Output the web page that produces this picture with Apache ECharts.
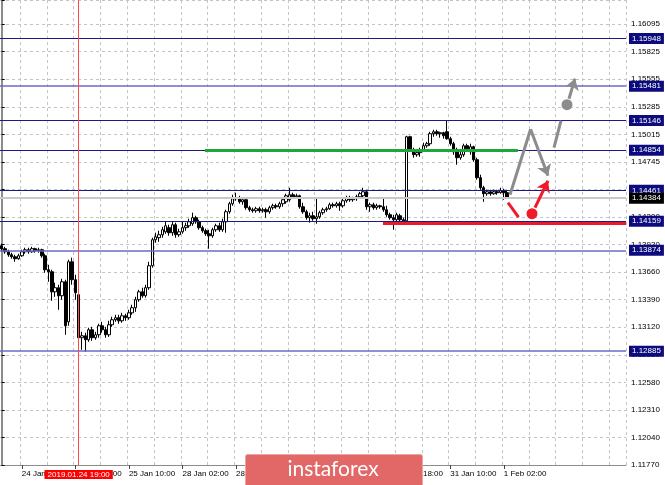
<!DOCTYPE html>
<html><head><meta charset="utf-8">
<script src="https://cdn.jsdelivr.net/npm/echarts@6/dist/echarts.min.js"></script>
<style>html,body{margin:0;padding:0;background:#fff}#c{width:665px;height:485px}</style>
</head><body><div id="c"></div>
<script>
// ---- data (EURUSD H1) ----
const opens = [1.13918,1.13889,1.13859,1.13830,1.13810,1.13791,1.13820,1.13859,1.13879,1.13859,
1.13889,1.13869,1.13879,1.13820,1.13683,1.13663,1.13467,1.13507,1.13428,1.13565,
1.13173,1.13761,1.13585,1.13438,1.13017,1.13036,1.12997,1.13095,1.13017,1.13046,
1.13134,1.13095,1.13046,1.13144,1.13193,1.13213,1.13183,1.13232,1.13213,1.13261,
1.13311,1.13389,1.13467,1.13428,1.13507,1.13722,1.13977,1.13997,1.14026,1.14055,
1.14095,1.14046,1.14124,1.14026,1.14055,1.14095,1.14114,1.14134,1.14193,1.14153,
1.14095,1.14065,1.14036,1.14016,1.14075,1.14114,1.14075,1.14153,1.14251,1.14330,
1.14379,1.14389,1.14349,1.14369,1.14291,1.14271,1.14261,1.14281,1.14261,1.14271,
1.14251,1.14291,1.14310,1.14300,1.14330,1.14349,1.14369,1.14418,1.14398,1.14408,
1.14300,1.14251,1.14193,1.14212,1.14183,1.14202,1.14242,1.14271,1.14281,1.14320,
1.14310,1.14330,1.14310,1.14359,1.14389,1.14369,1.14379,1.14398,1.14408,1.14447,
1.14300,1.14320,1.14291,1.14310,1.14300,1.14271,1.14222,1.14193,1.14173,1.14212,
1.14173,1.14163,1.14986,1.14859,1.14810,1.14830,1.14859,1.14898,1.14918,1.15016,
1.15035,1.15016,1.15026,1.15035,1.14967,1.14918,1.14839,1.14781,1.14810,1.14898,
1.14839,1.14888,1.14761,1.14585,1.14487,1.14428,1.14447,1.14428,1.14447,1.14438,
1.14457,1.14438];
const closes = [1.13889,1.13859,1.13830,1.13810,1.13791,1.13820,1.13859,1.13879,1.13859,1.13889,
1.13869,1.13879,1.13820,1.13683,1.13663,1.13467,1.13507,1.13428,1.13565,1.13134,
1.13761,1.13585,1.13458,1.13017,1.13036,1.12997,1.13095,1.13017,1.13046,1.13134,
1.13095,1.13046,1.13144,1.13193,1.13213,1.13183,1.13232,1.13213,1.13261,1.13311,
1.13389,1.13467,1.13428,1.13507,1.13722,1.13977,1.14006,1.14026,1.14075,1.14114,
1.14046,1.14124,1.14026,1.14055,1.14095,1.14114,1.14153,1.14193,1.14153,1.14095,
1.14065,1.14036,1.14016,1.14075,1.14114,1.14075,1.14153,1.14251,1.14330,1.14379,
1.14389,1.14349,1.14369,1.14291,1.14271,1.14261,1.14281,1.14261,1.14271,1.14251,
1.14291,1.14310,1.14300,1.14330,1.14369,1.14408,1.14418,1.14398,1.14408,1.14300,
1.14251,1.14193,1.14212,1.14183,1.14202,1.14242,1.14271,1.14281,1.14320,1.14310,
1.14330,1.14310,1.14359,1.14389,1.14369,1.14379,1.14398,1.14428,1.14447,1.14300,
1.14320,1.14291,1.14310,1.14300,1.14271,1.14222,1.14193,1.14173,1.14222,1.14173,
1.14163,1.14986,1.14859,1.14810,1.14830,1.14859,1.14898,1.14918,1.15016,1.15035,
1.15016,1.15026,1.14996,1.14967,1.14918,1.14839,1.14781,1.14810,1.14898,1.14869,
1.14888,1.14761,1.14585,1.14487,1.14428,1.14447,1.14428,1.14447,1.14438,1.14457,
1.14438,1.14384];
const lows = [1.13869,1.13840,1.13810,1.13791,1.13761,1.13781,1.13810,1.13840,1.13840,1.13850,
1.13850,1.13850,1.13801,1.13654,1.13565,1.13379,1.13418,1.13291,1.13389,1.13046,
1.13134,1.13536,1.13389,1.12938,1.12899,1.12879,1.12977,1.12987,1.12997,1.13017,
1.13066,1.13017,1.13026,1.13124,1.13173,1.13154,1.13164,1.13183,1.13193,1.13242,
1.13271,1.13369,1.13409,1.13409,1.13487,1.13703,1.13948,1.13957,1.13997,1.14036,
1.14016,1.14016,1.13997,1.14006,1.14036,1.14065,1.14095,1.14114,1.14134,1.14075,
1.14046,1.14016,1.13889,1.13997,1.14055,1.14055,1.14055,1.14046,1.14232,1.14310,
1.14359,1.14330,1.14320,1.14271,1.14251,1.14242,1.14242,1.14242,1.14242,1.14193,
1.14232,1.14271,1.14281,1.14281,1.14300,1.14330,1.14349,1.14379,1.14379,1.14281,
1.14232,1.14173,1.14144,1.14163,1.14134,1.14183,1.14222,1.14251,1.14271,1.14291,
1.14291,1.14261,1.14291,1.14340,1.14349,1.14349,1.14359,1.14379,1.14389,1.14271,
1.14251,1.14271,1.14271,1.14281,1.14251,1.14202,1.14173,1.14075,1.14153,1.14144,
1.14134,1.14144,1.14839,1.14781,1.14790,1.14790,1.14839,1.14879,1.14898,1.14986,
1.14996,1.14977,1.14967,1.14957,1.14898,1.14810,1.14712,1.14761,1.14790,1.14839,
1.14810,1.14741,1.14565,1.14467,1.14349,1.14408,1.14408,1.14418,1.14418,1.14428,
1.14369,1.14379];
const highs = [1.13938,1.13908,1.13879,1.13850,1.13830,1.13840,1.13879,1.13899,1.13899,1.13908,
1.13899,1.13899,1.13889,1.13840,1.13732,1.13683,1.13556,1.13536,1.13595,1.13585,
1.13781,1.13801,1.13634,1.13458,1.13075,1.13066,1.13115,1.13124,1.13075,1.13154,
1.13173,1.13124,1.13183,1.13222,1.13242,1.13242,1.13261,1.13252,1.13291,1.13340,
1.13418,1.13487,1.13507,1.13536,1.13761,1.13997,1.14046,1.14065,1.14104,1.14153,
1.14124,1.14153,1.14144,1.14085,1.14153,1.14144,1.14183,1.14242,1.14212,1.14173,
1.14114,1.14085,1.14075,1.14095,1.14134,1.14144,1.14183,1.14271,1.14349,1.14418,
1.14438,1.14408,1.14389,1.14379,1.14310,1.14291,1.14300,1.14300,1.14291,1.14291,
1.14310,1.14330,1.14330,1.14349,1.14389,1.14428,1.14487,1.14438,1.14428,1.14418,
1.14340,1.14271,1.14242,1.14251,1.14389,1.14261,1.14291,1.14300,1.14340,1.14340,
1.14349,1.14349,1.14379,1.14408,1.14408,1.14398,1.14418,1.14447,1.14487,1.14467,
1.14340,1.14340,1.14330,1.14320,1.14389,1.14310,1.14242,1.14222,1.14242,1.14232,
1.14193,1.14996,1.14996,1.14879,1.14859,1.14879,1.14928,1.14937,1.15035,1.15055,
1.15055,1.15035,1.15035,1.15143,1.14986,1.14937,1.14879,1.14839,1.14918,1.14918,
1.14918,1.14898,1.14781,1.14614,1.14506,1.14467,1.14467,1.14467,1.14467,1.14487,
1.14477,1.14457];

// time tick labels (category index -> text)
const xTickIdx = [6, 22, 38, 54, 70, 86, 102, 118, 134, 150];
const xTickText = ['24 Jan 02:00','24 Jan 18:00','25 Jan 10:00','28 Jan 02:00','28 Jan 18:00',
  '29 Jan 10:00','30 Jan 02:00','30 Jan 18:00','31 Jan 10:00','1 Feb 02:00'];
// price axis labels, bottom to top
const yTickText = ['1.11770','1.12040','1.12310','1.12580','1.12850','1.13120','1.13390','1.13660',
  '1.13930','1.14200','1.14470','1.14745','1.15015','1.15285','1.15555','1.15825','1.16095'];

// horizontal levels
const levelValues = [1.15948, 1.15481, 1.15146, 1.14854, 1.14461, 1.14159, 1.13874, 1.12885];
const levelLight  = [false, true, false, false, false, false, true, true];
const bidPrice = 1.14384;
const markerBar = 23, markerText = '2019.01.24 19:00';

// annotations: [bar position, price]
const greenLine = [[60.7, 1.14857], [154.2, 1.14857]];
const redLine = [[113.9, 1.14139], [186.5, 1.14139]];
const greyUp = [[151.85, 1.14418], [158.0, 1.15060]];
const greyDown = [[158.0, 1.15060], [163.2, 1.14604]];
const greyDash = [[164.99, 1.14879], [167.08, 1.15143]];
const greyArrow = [[169.47, 1.15359], [171.26, 1.15555]];
const greyDot = [168.87, 1.15300];
const redStroke = [[151.25, 1.14340], [154.39, 1.14198]];
const redArrow = [[159.32, 1.14291], [163.2, 1.14555]];
const redDot = [158.42, 1.14232];

const N_SLOTS = 187;
const Y_MIN = 1.1177, Y_STEP = 0.0027, Y_MAX = 1.16326;
const FONT = 'Liberation Sans';

const categories = Array.from({length: N_SLOTS}, (_, i) => String(i));
const labelOf = {};
xTickIdx.forEach((k, j) => { labelOf[k] = xTickText[j]; });
const candles = opens.map((o, i) => [o, closes[i], lows[i], highs[i]]);

const NAVY = '#0b0b7d';
const markData = levelValues.map((v, i) => ({
  yAxis: v,
  lineStyle: {color: levelLight[i] ? '#6a6ac8' : '#1a1a80', width: levelLight[i] ? 1.5 : 1, type: 'solid'},
  label: {show: true, position: 'end', distance: 3, formatter: v.toFixed(5), backgroundColor: NAVY,
    color: '#fff', fontSize: 8, fontFamily: FONT, padding: [2, 3, 1, 3]}
}));
markData.push({
  yAxis: bidPrice,
  lineStyle: {color: '#c8c8c8', width: 2, type: 'solid'},
  label: {show: true, position: 'end', distance: 3, formatter: bidPrice.toFixed(5), backgroundColor: '#000',
    color: '#fff', fontSize: 8, fontFamily: FONT, padding: [2, 3, 1, 3]}
});
markData.push({
  xAxis: markerBar,
  lineStyle: {color: '#ff4a4a', width: 1, type: 'solid'},
  label: {show: true, position: 'start', distance: 5, formatter: markerText, backgroundColor: '#ff0000',
    color: '#fff', fontSize: 8, fontFamily: FONT, padding: [1, 3, 0, 3]}
});

const GREY = '#8c8c8c', RED = '#ef1b2a';
const chart = echarts.init(document.getElementById('c'));
chart.setOption({
  animation: false,
  backgroundColor: '#fff',
  grid: {left: 0, right: 39, top: 0, bottom: 20, containLabel: false},
  xAxis: [{
    type: 'category', data: categories, boundaryGap: true,
    axisLine: {show: true, lineStyle: {color: '#8c8c8c', width: 1}},
    axisTick: {show: true, alignWithLabel: true, length: 4, lineStyle: {color: '#444'},
      interval: (i) => labelOf[i] !== undefined},
    axisLabel: {show: true, align: 'left', margin: 5, color: '#000', fontSize: 8, fontFamily: FONT,
      interval: (i) => labelOf[i] !== undefined, formatter: (v, i) => labelOf[i] || ''},
    splitLine: {show: true, interval: (i) => i % 8 === 6, lineStyle: {color: '#c4c4c4', type: [3, 3], width: 1}}
  }, {
    type: 'value', min: -0.5, max: N_SLOTS - 0.5, show: false
  }],
  yAxis: {
    type: 'value', position: 'right', min: Y_MIN, max: Y_MAX, interval: Y_STEP,
    axisLine: {show: true, lineStyle: {color: '#8c8c8c', width: 2}},
    axisTick: {show: true, length: 3, lineStyle: {color: '#000'}},
    axisLabel: {margin: 5, color: '#000', fontSize: 8, fontFamily: FONT,
      formatter: (v) => {
        if (v > Y_MAX - 0.0005) return '';
        const k = Math.round((v - Y_MIN) / Y_STEP);
        return yTickText[k] || '';
      }},
    splitLine: {show: true, lineStyle: {color: '#c4c4c4', type: [3, 3], width: 1}}
  },
  series: [{
    type: 'line', xAxisIndex: 1, yAxisIndex: 0, data: [], z: 3, silent: true,
    markLine: {silent: true, symbol: ['none', 'none'], animation: false, precision: 5, data: markData}
  }, {
    type: 'candlestick', xAxisIndex: 0, yAxisIndex: 0, data: candles, barWidth: 3, z: 4,
    itemStyle: {color: '#ffffff', color0: '#000000', borderColor: '#000000', borderColor0: '#000000', borderWidth: 1}
  }, {
    type: 'lines', coordinateSystem: 'cartesian2d', xAxisIndex: 1, yAxisIndex: 0, z: 5,
    symbol: ['none', 'none'],
    data: [
      {coords: greenLine, lineStyle: {color: '#1fa83a', width: 3, opacity: 1}},
      {coords: redLine, lineStyle: {color: '#ea1c2c', width: 3, opacity: 1}},
      {coords: greyUp, lineStyle: {color: GREY, width: 3, opacity: 1}},
      {coords: greyDash, lineStyle: {color: GREY, width: 3, opacity: 1}},
      {coords: redStroke, lineStyle: {color: RED, width: 3, opacity: 1}}
    ]
  }, {
    type: 'lines', coordinateSystem: 'cartesian2d', xAxisIndex: 1, yAxisIndex: 0, z: 5,
    symbol: ['none', 'arrow'], symbolSize: 11,
    data: [
      {coords: greyDown, lineStyle: {color: GREY, width: 3, opacity: 1}},
      {coords: greyArrow, lineStyle: {color: GREY, width: 3, opacity: 1}},
      {coords: redArrow, lineStyle: {color: RED, width: 3, opacity: 1}}
    ]
  }, {
    type: 'scatter', xAxisIndex: 1, yAxisIndex: 0, z: 6, symbolSize: 11,
    data: [
      {value: greyDot, itemStyle: {color: GREY, opacity: 1}},
      {value: redDot, itemStyle: {color: RED, opacity: 1}}
    ]
  }],
  graphic: [{
    type: 'rect', left: 245, top: 454, z: 100,
    shape: {width: 177, height: 40, r: 2},
    style: {fill: '#e26767', stroke: '#f2a3a3', lineWidth: 1}
  }, {
    type: 'text', x: 333, y: 469, z: 101,
    style: {text: 'instaforex', fill: '#ffffff', font: '21px Lato', align: 'center', verticalAlign: 'middle'}
  }]
});
</script>
</body></html>
